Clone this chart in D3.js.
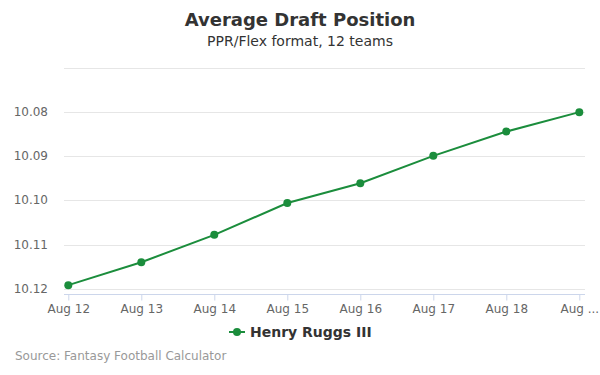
<!DOCTYPE html>
<html>
<head>
<meta charset="utf-8">
<script src="https://cdn.jsdelivr.net/npm/d3@7"></script>
<style>
  body { margin: 0; background: #fff; }
  svg { font-family: "DejaVu Sans", sans-serif; display: block; }
</style>
</head>
<body>
<div id="chart"></div>
<script>
// chart data
const dates = ["Aug 12", "Aug 13", "Aug 14", "Aug 15", "Aug 16", "Aug 17", "Aug 18", "Aug ..."];
const adpValues = [10.1192, 10.1140, 10.1078, 10.1006, 10.0961, 10.0899, 10.0844, 10.0800];
const yTicks = [10.07, 10.08, 10.09, 10.10, 10.11, 10.12];
const playerName = "Henry Ruggs III";

const width = 600, height = 375;
const lineColor = "#1b8d3c";

const svg = d3.select("#chart").append("svg")
    .attr("width", width)
    .attr("height", height);

svg.append("rect").attr("width", width).attr("height", height).attr("fill", "#fff");

// titles
svg.append("text")
    .attr("x", 300).attr("y", 26)
    .attr("text-anchor", "middle")
    .attr("font-size", 18).attr("font-weight", "bold")
    .attr("fill", "#333")
    .text("Average Draft Position");

svg.append("text")
    .attr("x", 300).attr("y", 46)
    .attr("text-anchor", "middle")
    .attr("font-size", 14)
    .attr("fill", "#333")
    .text("PPR/Flex format, 12 teams");

let plot = {left: 64, right: 585, top: 68, bottom: 294};

// scales (y reversed: lower pick value at top)
let x = d3.scalePoint()
    .domain(dates)
    .range([68.3, 579.3]);

let y = d3.scaleLinear()
    .domain([10.07, 10.12])
    .range([68, 288.7]);

// gridlines
svg.append("g")
    .selectAll("line")
    .data(yTicks)
    .join("line")
    .attr("x1", plot.left).attr("x2", plot.right)
    .attr("y1", d => Math.round(y(d)) + 0.5)
    .attr("y2", d => Math.round(y(d)) + 0.5)
    .attr("stroke", "#e6e6e6")
    .attr("stroke-width", 1);

// y labels (skip top one)
svg.append("g")
    .selectAll("text")
    .data(yTicks.slice(1))
    .join("text")
    .attr("x", 48)
    .attr("y", d => y(d) + 4)
    .attr("text-anchor", "end")
    .attr("font-size", 12)
    .attr("fill", "#666")
    .text(d => d.toFixed(2));

// x axis
let xAxis = d3.axisBottom(x).tickSize(6).tickSizeOuter(0);
let gx = svg.append("g")
    .attr("transform", `translate(0, ${plot.bottom + 0.5})`)
    .call(xAxis);
gx.select(".domain").remove();
gx.append("line")
    .attr("x1", plot.left).attr("x2", plot.right)
    .attr("stroke", "#ccd6eb");
gx.selectAll(".tick line").attr("stroke", "#ccd6eb");
gx.selectAll(".tick text")
    .attr("y", 10)
    .attr("font-size", 12)
    .attr("font-family", "DejaVu Sans, sans-serif")
    .attr("fill", "#666");

// line + markers
let line = d3.line()
    .x((d, i) => x(dates[i]))
    .y(d => y(d));

svg.append("path")
    .datum(adpValues)
    .attr("d", line)
    .attr("fill", "none")
    .attr("stroke", lineColor)
    .attr("stroke-width", 2);

svg.append("g")
    .selectAll("circle")
    .data(adpValues)
    .join("circle")
    .attr("cx", (d, i) => x(dates[i]))
    .attr("cy", d => y(d))
    .attr("r", 4)
    .attr("fill", lineColor);

// legend
let legend = svg.append("g").attr("transform", "translate(229, 332)");
legend.append("line")
    .attr("x1", 0).attr("x2", 16)
    .attr("stroke", lineColor).attr("stroke-width", 2);
legend.append("circle")
    .attr("cx", 8).attr("r", 4).attr("fill", lineColor);
legend.append("text")
    .attr("x", 21).attr("y", 5)
    .attr("font-size", 14).attr("font-weight", "bold")
    .attr("fill", "#333")
    .text(playerName);

// source
svg.append("text")
    .attr("x", 15).attr("y", 360)
    .attr("font-size", 12)
    .attr("fill", "#999")
    .text("Source: Fantasy Football Calculator");
</script>
</body>
</html>
